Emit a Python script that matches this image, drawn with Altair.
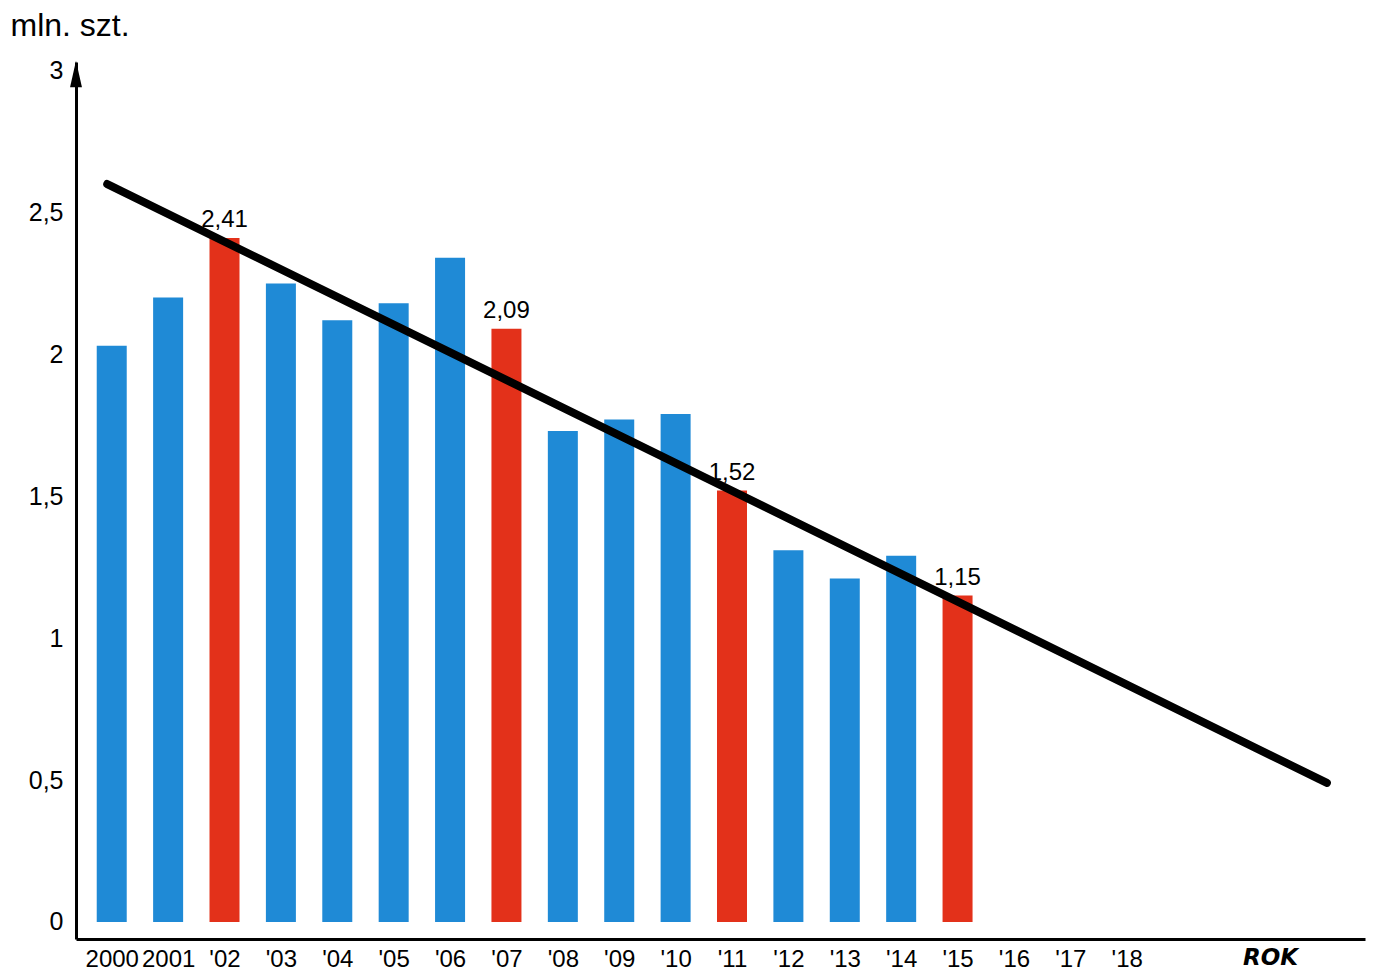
import altair as alt
import pandas as pd

years = list(range(2000, 2016))
values = [2.03, 2.20, 2.41, 2.25, 2.12, 2.18, 2.34, 2.09, 1.73, 1.77, 1.79, 1.52, 1.31, 1.21, 1.29, 1.15]
highlight = [y in (2002, 2007, 2011, 2015) for y in years]
tick_years = list(range(2000, 2019))
y_ticks = [0, 0.5, 1, 1.5, 2, 2.5, 3]
trend_years = [1999.92, 2021.55]
trend_values = [2.60, 0.49]
axis_word = "ROK"
axis_word_pos = 2020.55

BLUE = "#1f8ad6"
RED = "#e3311a"

df = pd.DataFrame({"year": years, "value": values, "hl": ["r" if h else "b" for h in highlight]})
df_hl = df[df["hl"] == "r"].copy()
df_trend = pd.DataFrame({"year": trend_years, "value": trend_values})
df_word = pd.DataFrame({"year": [axis_word_pos], "label": [axis_word]})

W, H = 1289, 877
xs = alt.Scale(domain=[1999.455, 2022.137], nice=False, zero=False)
ys = alt.Scale(domain=[-0.06, 3.03], nice=False, zero=False)

x_axis = alt.Axis(
    values=tick_years, title=None, grid=False, ticks=False, domainColor="black",
    domainWidth=3, labelFontSize=24, labelFont="Liberation Sans", labelColor="black",
    labelPadding=8, labelOverlap=False, labelFlush=False, labelBound=False,
    labelExpr="datum.value < 2002 ? toString(datum.value) : \"'\" + substring(toString(datum.value), 2, 4)",
)
y_axis = alt.Axis(
    values=y_ticks, grid=False, ticks=False, domainColor="black", domainWidth=3,
    labelFontSize=25, labelFont="Liberation Sans", labelColor="black", labelPadding=13,
    labelExpr="replace(toString(datum.value), '.', ',')",
    title="mln. szt.", titleAngle=0, titleAlign="left", titleBaseline="alphabetic",
    titleX=-66, titleY=-27, titleFontSize=32, titleFont="Liberation Sans",
    titleFontWeight="normal", titleColor="black",
)

bars = alt.Chart(df).mark_bar(size=30).encode(
    x=alt.X("year:Q", scale=xs, axis=x_axis),
    y=alt.Y("value:Q", scale=ys, axis=y_axis),
    y2=alt.datum(0),
    color=alt.Color("hl:N", scale=alt.Scale(domain=["b", "r"], range=[BLUE, RED]), legend=None),
)

labels = alt.Chart(df_hl).transform_calculate(
    txt="replace(format(datum.value, '.2f'), '.', ',')"
).mark_text(dy=-11, baseline="alphabetic", fontSize=24, font="Liberation Sans", color="black").encode(
    x=alt.X("year:Q", scale=xs),
    y=alt.Y("value:Q", scale=ys),
    text="txt:N",
)

trend = alt.Chart(df_trend).mark_line(color="black", strokeWidth=8, strokeCap="round").encode(
    x=alt.X("year:Q", scale=xs),
    y=alt.Y("value:Q", scale=ys),
)

word = alt.Chart(df_word).mark_text(
    fontSize=23, fontWeight="bold", fontStyle="italic", font="DejaVu Sans", color="black",
    baseline="alphabetic",
).encode(
    x=alt.X("year:Q", scale=xs),
    y=alt.value(H + 26),
    text="label:N",
)

arrow = alt.Chart(pd.DataFrame({"a": [0]})).mark_point(
    shape="M0,-1L0.45,1L-0.45,1Z", filled=True, color="black", opacity=1, size=700, strokeWidth=0,
).encode(x=alt.value(0), y=alt.value(12))

chart = alt.layer(bars, trend, labels, word, arrow).properties(
    width=W, height=H,
    background="white",
    autosize=alt.AutoSizeParams(type="none"),
    padding={"left": 68, "top": 54, "right": 2, "bottom": 34},
).configure_view(stroke=None, strokeWidth=0)

chart.save("out.html", embed_options={"renderer": "svg", "actions": False})
